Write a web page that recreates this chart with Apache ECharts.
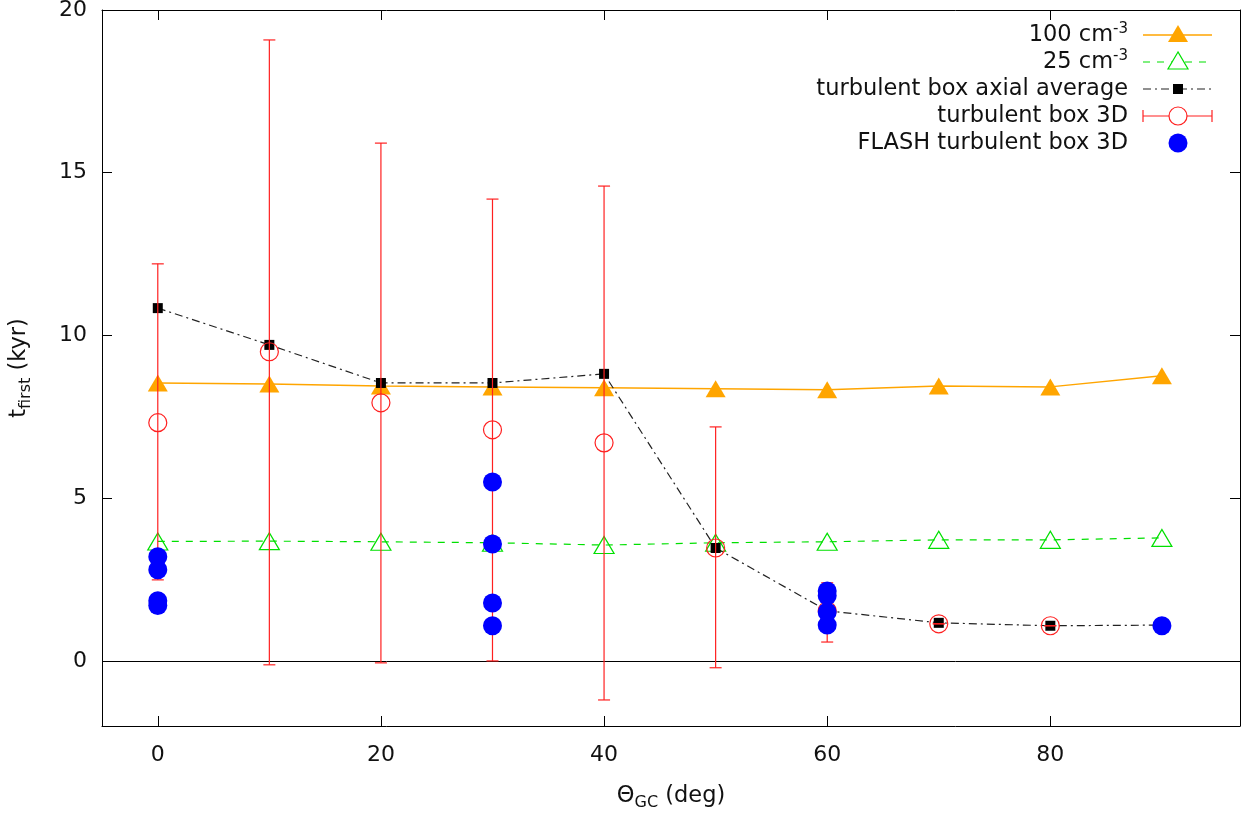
<!DOCTYPE html>
<html>
<head>
<meta charset="utf-8">
<script src="https://cdn.jsdelivr.net/npm/echarts@6/dist/echarts.min.js"></script>
<style>html,body{margin:0;padding:0;background:#fff;}#c{width:1245px;height:813px;}</style>
</head>
<body>
<div id="c"></div>
<script>
// ---- data ----
const angles = [0, 10, 20, 30, 40, 50, 60, 70, 80, 90];
const dens100 = [8.54, 8.51, 8.45, 8.42, 8.39, 8.36, 8.33, 8.45, 8.42, 8.76];
const dens25 = [3.67, 3.68, 3.66, 3.63, 3.56, 3.63, 3.66, 3.72, 3.72, 3.78];
const axialAvg = [10.84, 9.71, 8.54, 8.54, 8.82, 3.47, 1.54, 1.17, 1.08, 1.10];
const box3dX = [0, 10, 20, 30, 40, 50, 60, 70, 80];
const box3dY = [7.32, 9.50, 7.93, 7.10, 6.70, 3.47, 1.54, 1.14, 1.08];
const box3dLow = [2.49, -0.12, -0.06, 0.00, -1.20, -0.21, 0.58, 1.14, 1.08];
const box3dHigh = [12.20, 19.08, 15.91, 14.19, 14.59, 7.19, 2.40, 1.14, 1.08];
const flashX = [0, 0, 0, 0, 30, 30, 30, 30, 60, 60, 60, 60, 90];
const flashY = [3.20, 2.80, 1.85, 1.70, 5.50, 3.59, 1.78, 1.08, 2.15, 2.00, 1.50, 1.10, 1.08];
const xTicks = [0, 20, 40, 60, 80];
const yTicks = [0, 5, 10, 15, 20];
const legendNames = ['100 cm{sup|-3}', '25 cm{sup|-3}', 'turbulent box axial average', 'turbulent box 3D', 'FLASH turbulent box 3D'];

const FONT = 'DejaVu Sans';
const FS = 22.5;
const zip = (xs, ys) => xs.map((x, i) => [x, ys[i]]);

const chart = echarts.init(document.getElementById('c'), null, {renderer: 'canvas'});

const axisCommon = {
  type: 'value',
  axisLine: {show: true, onZero: false, lineStyle: {color: '#000', width: 1}},
  splitLine: {show: false},
  axisTick: {show: true, inside: true, length: 10, lineStyle: {color: '#000', width: 1}},
};

const xMain = Object.assign({}, axisCommon, {
  min: -5, max: 97, position: 'bottom',
  axisTick: Object.assign({}, axisCommon.axisTick, {customValues: xTicks}),
  axisLabel: {customValues: xTicks, color: '#111', fontFamily: FONT, fontSize: 22, margin: 18},
  name: 'Θ{sub|GC} (deg)', nameLocation: 'middle', nameGap: 55,
  nameTextStyle: {color: '#111', fontFamily: FONT, fontSize: FS, lineHeight: 30,
    rich: {sub: {fontFamily: FONT, fontSize: 16, lineHeight: 16, verticalAlign: 'bottom', color: '#111'}}}
});
const xTop = Object.assign({}, axisCommon, {
  min: -5, max: 97, position: 'top',
  axisTick: Object.assign({}, axisCommon.axisTick, {customValues: xTicks}),
  axisLabel: {show: false, customValues: xTicks}
});
const yMain = Object.assign({}, axisCommon, {
  min: -2, max: 20, position: 'left',
  axisTick: Object.assign({}, axisCommon.axisTick, {customValues: yTicks}),
  axisLabel: {customValues: yTicks, color: '#111', fontFamily: FONT, fontSize: 22, margin: 15},
  name: 't{sub|first} (kyr)', nameLocation: 'middle', nameGap: 68,
  nameTextStyle: {color: '#111', fontFamily: FONT, fontSize: FS, lineHeight: 30,
    rich: {sub: {fontFamily: FONT, fontSize: 16, lineHeight: 16, verticalAlign: 'bottom', color: '#111'}}}
});
const yRight = Object.assign({}, axisCommon, {
  min: -2, max: 20, position: 'right',
  axisTick: Object.assign({}, axisCommon.axisTick, {customValues: yTicks}),
  axisLabel: {show: false, customValues: yTicks}
});

// error bars via custom series using the axis scales
function renderErr(params, api) {
  const x = api.value(0), lo = api.value(1), hi = api.value(2);
  const pLo = api.coord([x, lo]);
  const pHi = api.coord([x, hi]);
  const cap = 6;
  const style = {stroke: '#ff2020', lineWidth: 1.2};
  return {
    type: 'group',
    children: [
      {type: 'line', shape: {x1: pLo[0], y1: pLo[1], x2: pHi[0], y2: pHi[1]}, style},
      {type: 'line', shape: {x1: pLo[0] - cap, y1: pLo[1], x2: pLo[0] + cap, y2: pLo[1]}, style},
      {type: 'line', shape: {x1: pHi[0] - cap, y1: pHi[1], x2: pHi[0] + cap, y2: pHi[1]}, style}
    ]
  };
}
const errData = box3dX.map((x, i) => [x, box3dLow[i], box3dHigh[i]]);

// legend drawn as graphics (gnuplot style: text right-aligned, sample on the right)
const legTextRight = 1128, sx1 = 1143, sx2 = 1212, sMid = 1178;
const legRows = [35, 62, 89, 116, 143];
const richSup = {sup: {fontFamily: FONT, fontSize: 15, lineHeight: 15, verticalAlign: 'top', fill: '#111'}};
const graphics = [];
legendNames.forEach((t, i) => {
  graphics.push({type: 'text', x: legTextRight, y: legRows[i], z: 100,
    style: {text: t, fontFamily: FONT, fontSize: FS, fill: '#111', align: 'right', verticalAlign: 'middle', lineHeight: 27, rich: richSup}});
});
graphics.push({type: 'line', z: 100, shape: {x1: sx1, y1: legRows[0], x2: sx2, y2: legRows[0]}, style: {stroke: '#ffa500', lineWidth: 1.5}});
graphics.push({type: 'polygon', z: 101, shape: {points: [[sMid, legRows[0] - 10], [sMid - 10, legRows[0] + 7], [sMid + 10, legRows[0] + 7]]}, style: {fill: '#ffa500'}});
graphics.push({type: 'line', z: 100, shape: {x1: sx1, y1: legRows[1], x2: sx2, y2: legRows[1]}, style: {stroke: '#00e000', lineWidth: 1.2, lineDash: [7, 7]}});
graphics.push({type: 'polygon', z: 101, shape: {points: [[sMid, legRows[1] - 10], [sMid - 10, legRows[1] + 7], [sMid + 10, legRows[1] + 7]]}, style: {fill: '#fff', stroke: '#00e000', lineWidth: 1.2}});
graphics.push({type: 'line', z: 100, shape: {x1: sx1, y1: legRows[2], x2: sx2, y2: legRows[2]}, style: {stroke: '#222', lineWidth: 1.2, lineDash: [8, 4, 2, 4]}});
graphics.push({type: 'rect', z: 101, shape: {x: sMid - 5, y: legRows[2] - 5, width: 10, height: 10}, style: {fill: '#000'}});
graphics.push({type: 'line', z: 100, shape: {x1: sx1, y1: legRows[3], x2: sx2, y2: legRows[3]}, style: {stroke: '#ff2020', lineWidth: 1.2}});
graphics.push({type: 'line', z: 100, shape: {x1: sx1, y1: legRows[3] - 6, x2: sx1, y2: legRows[3] + 6}, style: {stroke: '#ff2020', lineWidth: 1.2}});
graphics.push({type: 'line', z: 100, shape: {x1: sx2, y1: legRows[3] - 6, x2: sx2, y2: legRows[3] + 6}, style: {stroke: '#ff2020', lineWidth: 1.2}});
graphics.push({type: 'circle', z: 101, shape: {cx: sMid, cy: legRows[3], r: 9}, style: {fill: '#fff', stroke: '#ff2020', lineWidth: 1.2}});
graphics.push({type: 'circle', z: 101, shape: {cx: sMid, cy: legRows[4], r: 9.5}, style: {fill: '#0000ff'}});

const option = {
  animation: false,
  backgroundColor: '#fff',
  grid: {left: 102, right: 5, top: 10, bottom: 87, containLabel: false, outerBoundsMode: 'none'},
  xAxis: [xMain, xTop],
  yAxis: [yMain, yRight],
  graphic: graphics,
  series: [
    {
      name: '100', type: 'line', data: zip(angles, dens100), z: 2,
      symbol: 'triangle', symbolSize: [20, 17],
      lineStyle: {color: '#ffa500', width: 1.5},
      itemStyle: {color: '#ffa500', opacity: 1},
      markLine: {silent: true, symbol: 'none', label: {show: false},
        lineStyle: {color: '#000', type: 'solid', width: 1}, data: [{yAxis: 0}]}
    },
    {
      name: '25', type: 'line', data: zip(angles, dens25), z: 3,
      symbol: 'triangle', symbolSize: [20, 17],
      lineStyle: {color: '#00e000', width: 1.2, type: [7, 7]},
      itemStyle: {color: 'rgba(0,0,0,0)', borderColor: '#00e000', borderWidth: 1.2}
    },
    {
      name: 'axial', type: 'line', data: zip(angles, axialAvg), z: 4,
      symbol: 'rect', symbolSize: 10,
      lineStyle: {color: '#222', width: 1.2, type: [8, 4, 2, 4]},
      itemStyle: {color: '#000', opacity: 1}
    },
    {
      name: 'err', type: 'custom', data: errData, z: 5,
      renderItem: renderErr, encode: {x: 0, y: [1, 2]}
    },
    {
      name: 'box3d', type: 'scatter', data: zip(box3dX, box3dY), z: 6,
      symbol: 'circle', symbolSize: 18,
      itemStyle: {color: 'rgba(0,0,0,0)', borderColor: '#ff2020', borderWidth: 1.2, opacity: 1}
    },
    {
      name: 'flash', type: 'scatter', data: zip(flashX, flashY), z: 7,
      symbol: 'circle', symbolSize: 19,
      itemStyle: {color: '#0000ff', opacity: 1}
    }
  ]
};
chart.setOption(option);
</script>
</body>
</html>
